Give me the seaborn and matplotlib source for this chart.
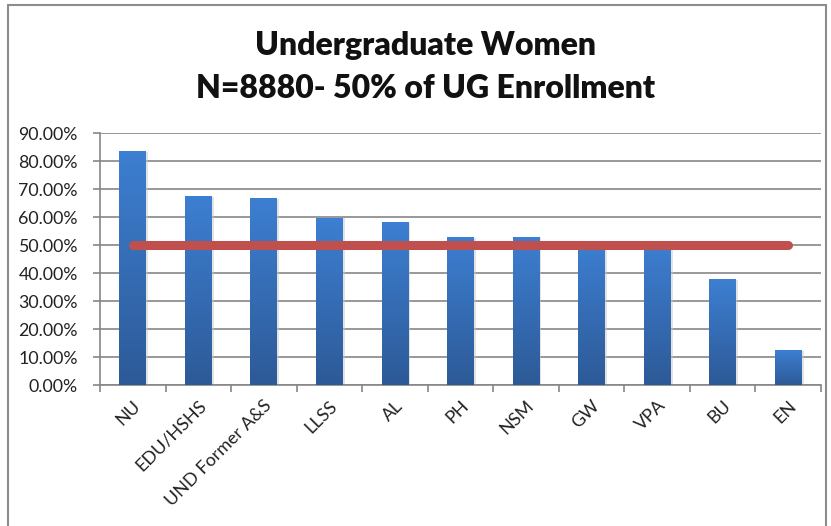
import numpy as np
import pandas as pd
import matplotlib
matplotlib.use("Agg")
import matplotlib.pyplot as plt
from matplotlib.lines import Line2D
import seaborn as sns

categories = ["NU", "EDU/HSHS", "UND Former A&S", "LLSS", "AL", "PH", "NSM", "GW", "VPA", "BU", "EN"]
women_pct = [83.6, 67.5, 66.8, 59.8, 58.2, 52.9, 52.9, 51.4, 51.0, 37.9, 12.5]
target_pct = [50.0] * len(categories)
y_ticks = [0, 10, 20, 30, 40, 50, 60, 70, 80, 90]
title_lines = ["Undergraduate Women", "N=8880- 50% of UG Enrollment"]

sns.set_theme(style="white")
plt.rcParams["font.family"] = ["Lato", "DejaVu Sans"]

df = pd.DataFrame({"cat": categories, "pct": women_pct, "target": target_pct})

fig = plt.figure(figsize=(8.31, 5.26), dpi=100)
ax = fig.add_axes([100 / 831, 1 - 385 / 526, 721 / 831, 252 / 526])

sns.barplot(data=df, x="cat", y="pct", color="#3a77c4", width=0.41, ax=ax,
            saturation=1, edgecolor="none", zorder=3)

# gradient fill on bars
grad = np.linspace(0, 1, 256).reshape(-1, 1)
cmap = matplotlib.colors.LinearSegmentedColormap.from_list("g", ["#2d5a97", "#3d7fd2"])
for p in ax.patches:
    x0, y0 = p.get_x(), p.get_y()
    w, h = p.get_width(), p.get_height()
    ax.add_patch(plt.Rectangle((x0 + 0.03, y0), w, h - 0.3, color="#c8c8c8", alpha=0.5,
                               zorder=2, lw=0))
    im = ax.imshow(grad, extent=(x0, x0 + w, y0, y0 + h), origin="lower", cmap=cmap,
                   aspect="auto", zorder=4)
    im.set_clip_path(p)

sns.lineplot(data=df, x="cat", y="target", color="#c0504d", linewidth=6.5, ax=ax,
             zorder=5, solid_capstyle="round", sort=False)

ax.set_xlim(-0.5, len(categories) - 0.5)
ax.set_ylim(0, 90)
ax.set_yticks(y_ticks)
ax.set_yticklabels([f"{v:.2f}%" for v in y_ticks], fontsize=12.8, color="#222222")
ax.grid(axis="y", color="#868686", linewidth=1.2, zorder=0)
ax.set_axisbelow(True)
ax.set_xlabel("")
ax.set_ylabel("")

for s in ["top", "right"]:
    ax.spines[s].set_visible(False)
for s in ["left", "bottom"]:
    ax.spines[s].set_color("#868686")
    ax.spines[s].set_linewidth(1.2)

ax.set_xticks(range(len(categories)))
ax.set_xticklabels(categories, rotation=45, ha="right", rotation_mode="anchor",
                   fontsize=13, color="#222222")
ax.tick_params(axis="x", which="major", length=0, pad=9)
ax.set_xticks(np.arange(-0.5, len(categories), 1), minor=True)
ax.tick_params(axis="x", which="minor", length=5, color="#868686", width=1.2, direction="out")
ax.tick_params(axis="y", which="major", length=5, color="#868686", width=1.2, direction="out", pad=11)
ax.tick_params(axis="y", left=True)
ax.tick_params(axis="x", which="minor", bottom=True)

fig.text(426 / 831, 1 - 45 / 526, title_lines[0], ha="center", va="center",
         fontsize=23, fontweight="heavy", color="#111111")
fig.text(426 / 831, 1 - 88 / 526, title_lines[1], ha="center", va="center",
         fontsize=23, fontweight="heavy", color="#111111")

# chart frame
for xs, ys in [([8, 8], [5, 526]), ([8, 826], [5, 5]), ([826, 826], [5, 526])]:
    fig.add_artist(Line2D([x / 831 for x in xs], [1 - y / 526 for y in ys],
                          color="#8c8c8c", linewidth=1.5))

fig.savefig("out.png", dpi=100)
